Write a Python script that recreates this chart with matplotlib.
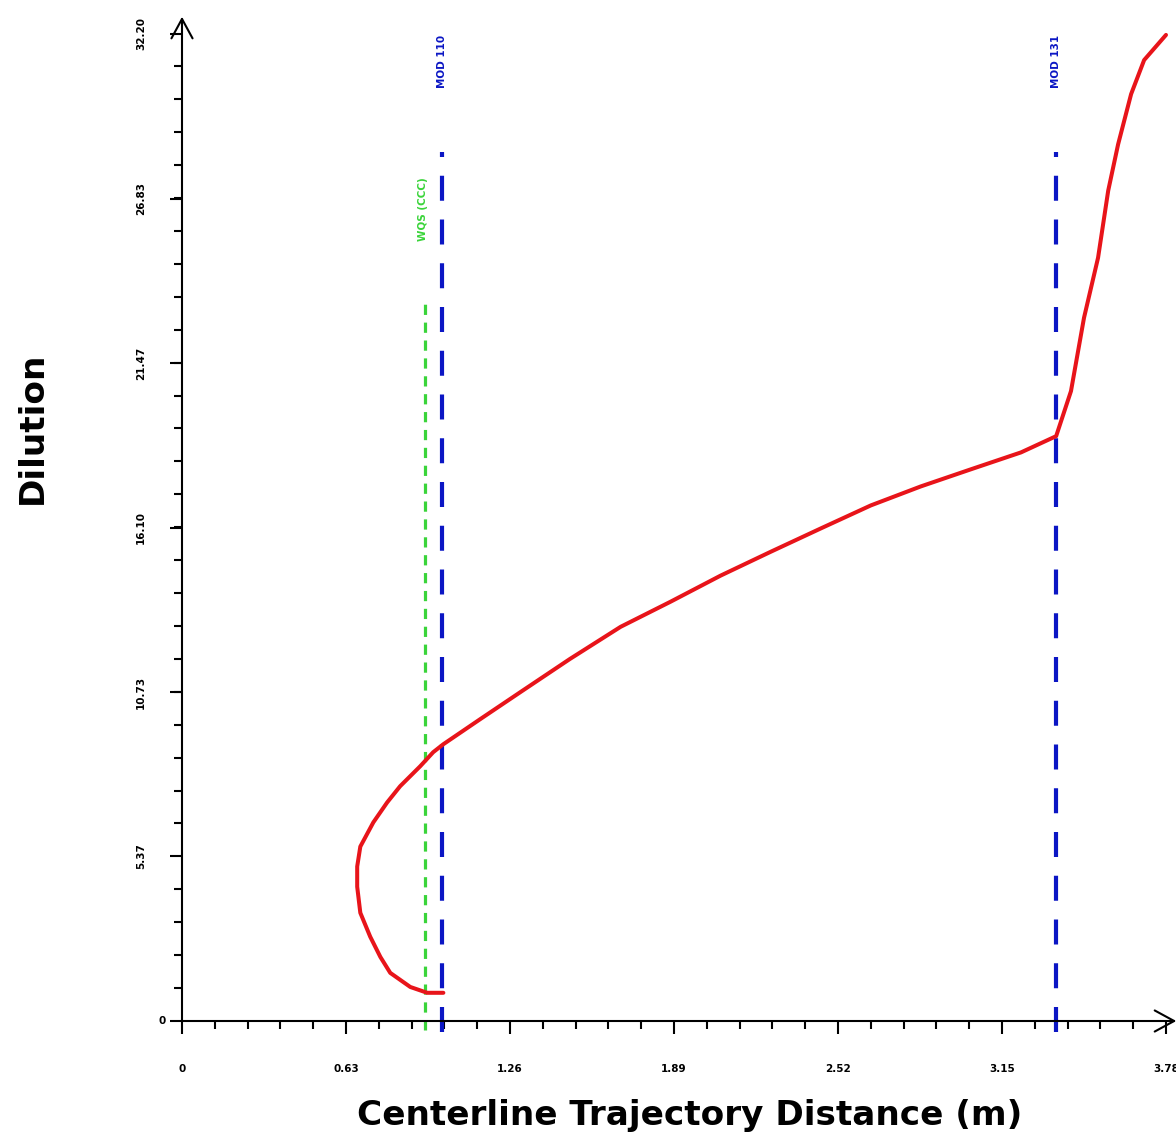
import matplotlib
matplotlib.use("Agg")
import matplotlib.pyplot as plt
from matplotlib.ticker import FixedLocator, AutoMinorLocator

# Centerline dilution along the trajectory
distance = [1.004, 0.942, 0.877, 0.800, 0.762, 0.723, 0.685, 0.673, 0.673, 0.685,
            0.735, 0.788, 0.838, 0.915, 0.965, 1.004, 1.146, 1.30, 1.49, 1.685,
            1.877, 2.069, 2.262, 2.454, 2.646, 2.838, 3.031, 3.223, 3.358, 3.415,
            3.465, 3.519, 3.558, 3.596, 3.646, 3.696, 3.78]
dilution = [0.92, 0.92, 1.11, 1.57, 2.09, 2.75, 3.53, 4.38, 5.04, 5.69,
            6.48, 7.13, 7.66, 8.31, 8.77, 9.03, 9.85, 10.73, 11.81, 12.86,
            13.68, 14.53, 15.31, 16.07, 16.82, 17.44, 18.00, 18.55, 19.08, 20.55,
            22.94, 24.90, 27.09, 28.60, 30.24, 31.35, 32.17]

# Module transitions and regulatory boundary
module_x = [1.00, 3.358]
module_labels = ["MOD 110", "MOD 131"]
wqs_x = 0.935
wqs_label = "WQS (CCC)"

x_ticks = [0, 0.63, 1.26, 1.89, 2.52, 3.15, 3.78]
x_tick_labels = ["0", "0.63", "1.26", "1.89", "2.52", "3.15", "3.78"]
y_ticks = [0, 5.37, 10.73, 16.10, 21.47, 26.83, 32.20]
y_tick_labels = ["0", "5.37", "10.73", "16.10", "21.47", "26.83", "32.20"]

RED = "#e8141a"
BLUE = "#0b16c4"
GREEN = "#3ad43a"

fig = plt.figure(figsize=(11.76, 11.39), dpi=100)
ax = fig.add_axes([182 / 1176, 1 - 1021 / 1139, 984 / 1176, 987 / 1139])
ax.set_xlim(0, 3.78)
ax.set_ylim(0, 32.2)

for s in ax.spines.values():
    s.set_visible(False)

# Axis lines with open arrow heads
arrow = dict(arrowstyle="->,head_length=0.7,head_width=0.38", lw=1.5, color="black",
             mutation_scale=20, shrinkA=0, shrinkB=0)
ax.annotate("", xy=(0, 1.0175), xytext=(0, 0), xycoords="axes fraction",
            textcoords="axes fraction", arrowprops=arrow, annotation_clip=False)
ax.annotate("", xy=(1.0105, 0), xytext=(0, 0), xycoords="axes fraction",
            textcoords="axes fraction", arrowprops=arrow, annotation_clip=False)

# Vertical markers
for xv in module_x:
    ax.plot([xv, xv], [-0.36, 28.34], color=BLUE, lw=3.0, dashes=(6.0, 4.5),
            clip_on=False, zorder=2)
ax.plot([wqs_x, wqs_x], [-0.3, 23.6], color=GREEN, lw=2.3, dashes=(3.2, 2.4),
        clip_on=False, zorder=2)

for xv, lab in zip(module_x, module_labels):
    ax.text(xv, 32.17, lab, rotation=90, ha="center", va="top", color=BLUE,
            fontsize=7.5, fontweight="bold")
ax.text(wqs_x - 0.01, 27.52, wqs_label, rotation=90, ha="center", va="top",
        color=GREEN, fontsize=7.5, fontweight="bold")

# Dilution curve
ax.plot(distance, dilution, color=RED, lw=2.9, solid_capstyle="round",
        solid_joinstyle="round", clip_on=False, zorder=3)

# Ticks
ax.xaxis.set_major_locator(FixedLocator(x_ticks))
ax.yaxis.set_major_locator(FixedLocator(y_ticks))
ax.xaxis.set_minor_locator(AutoMinorLocator(5))
ax.yaxis.set_minor_locator(AutoMinorLocator(5))
ax.set_xticklabels(x_tick_labels, fontsize=7.5, fontweight="bold")
# zero on the dilution axis is written upright, close to the axis
ax.set_yticklabels([""] + y_tick_labels[1:], fontsize=7.5, fontweight="bold",
                   rotation=90, va="center")
ax.annotate(y_tick_labels[0], xy=(0, y_ticks[0]), xytext=(-14, 0),
            textcoords="offset points", ha="center", va="center",
            fontsize=7.5, fontweight="bold", annotation_clip=False)
ax.tick_params(axis="x", which="major", direction="out", length=9, width=1.5, pad=22)
ax.tick_params(axis="x", which="minor", direction="out", length=6, width=1.5)
ax.tick_params(axis="y", which="major", direction="out", length=9, width=1.5, pad=17)
ax.tick_params(axis="y", which="minor", direction="out", length=6, width=1.5)

# Axis titles
ax.set_xlabel("Centerline Trajectory Distance (m)", fontsize=24.7, fontweight="bold",
              family="DejaVu Sans")
ax.xaxis.set_label_coords(0.516, -0.079)
ax.set_ylabel("Dilution", fontsize=24.7, fontweight="bold", family="DejaVu Sans")
ax.yaxis.set_label_coords(-0.135, 0.601)

fig.savefig("out.png", dpi=100)
